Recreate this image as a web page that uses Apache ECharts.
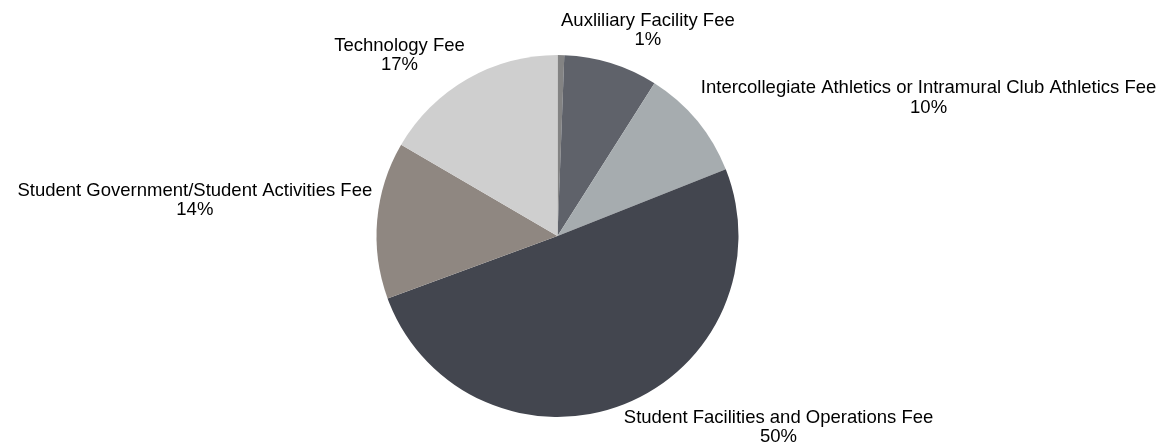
<!DOCTYPE html>
<html>
<head>
<meta charset="utf-8">
<script src="https://cdn.jsdelivr.net/npm/echarts@6/dist/echarts.min.js"></script>
<style>
  html, body { margin: 0; padding: 0; background: #ffffff; }
  #chart { width: 1161px; height: 447px; }
</style>
</head>
<body>
<div id="chart"></div>
<script>
// Data, clockwise from 12 o'clock
const categories = [
  'Auxliliary Facility Fee',
  'Other Fees',
  'Intercollegiate Athletics or Intramural Club Athletics Fee',
  'Student Facilities and Operations Fee',
  'Student Government/Student Activities Fee',
  'Technology Fee'
];
const values = [0.6, 8.4, 10.0, 50.4, 14.0, 16.6];
const labelShown = [true, false, true, true, true, true];

const sliceColors = ['#838383', '#5f626a', '#a6acaf', '#43464f', '#8f8781', '#cfcfcf'];

const chart = echarts.init(document.getElementById('chart'), null, { renderer: 'canvas' });

const seriesData = categories.map((name, i) => ({
  name: name,
  value: values[i],
  label: { show: labelShown[i] }
}));

const LABEL_GAP = 5;

const option = {
  backgroundColor: '#ffffff',
  animation: false,
  color: sliceColors,
  series: [{
    type: 'pie',
    center: [557.5, 236],
    radius: 181,
    startAngle: 90,
    clockwise: true,
    avoidLabelOverlap: false,
    percentPrecision: 0,
    itemStyle: { borderWidth: 0 },
    label: {
      show: true,
      position: 'outside',
      formatter: '{b}\n{d}%',
      fontFamily: '"Liberation Sans", Arial, sans-serif',
      fontSize: 18.5,
      lineHeight: 19.5,
      color: '#000000',
      align: 'center'
    },
    labelLine: { show: false },
    labelLayout: function (params) {
      const data = chart.getModel().getSeriesByIndex(0).getData();
      const lay = data.getItemLayout(params.dataIndex);
      const mid = (lay.startAngle + lay.endAngle) / 2;
      const ux = Math.cos(mid), uy = Math.sin(mid);
      const rr = lay.r + LABEL_GAP;
      const w = params.labelRect.width, h = params.labelRect.height;
      let x = lay.cx + rr * ux + Math.sign(ux) * w / 2;
      let y = lay.cy + rr * uy + Math.sign(uy) * h / 2;
      const W = chart.getWidth(), H = chart.getHeight();
      x = Math.min(Math.max(x, w / 2), W - w / 2);
      y = Math.min(Math.max(y, h / 2), H - h / 2);
      return { x: x, y: y, align: 'center', verticalAlign: 'middle' };
    },
    data: seriesData
  }]
};

chart.setOption(option);
</script>
</body>
</html>
